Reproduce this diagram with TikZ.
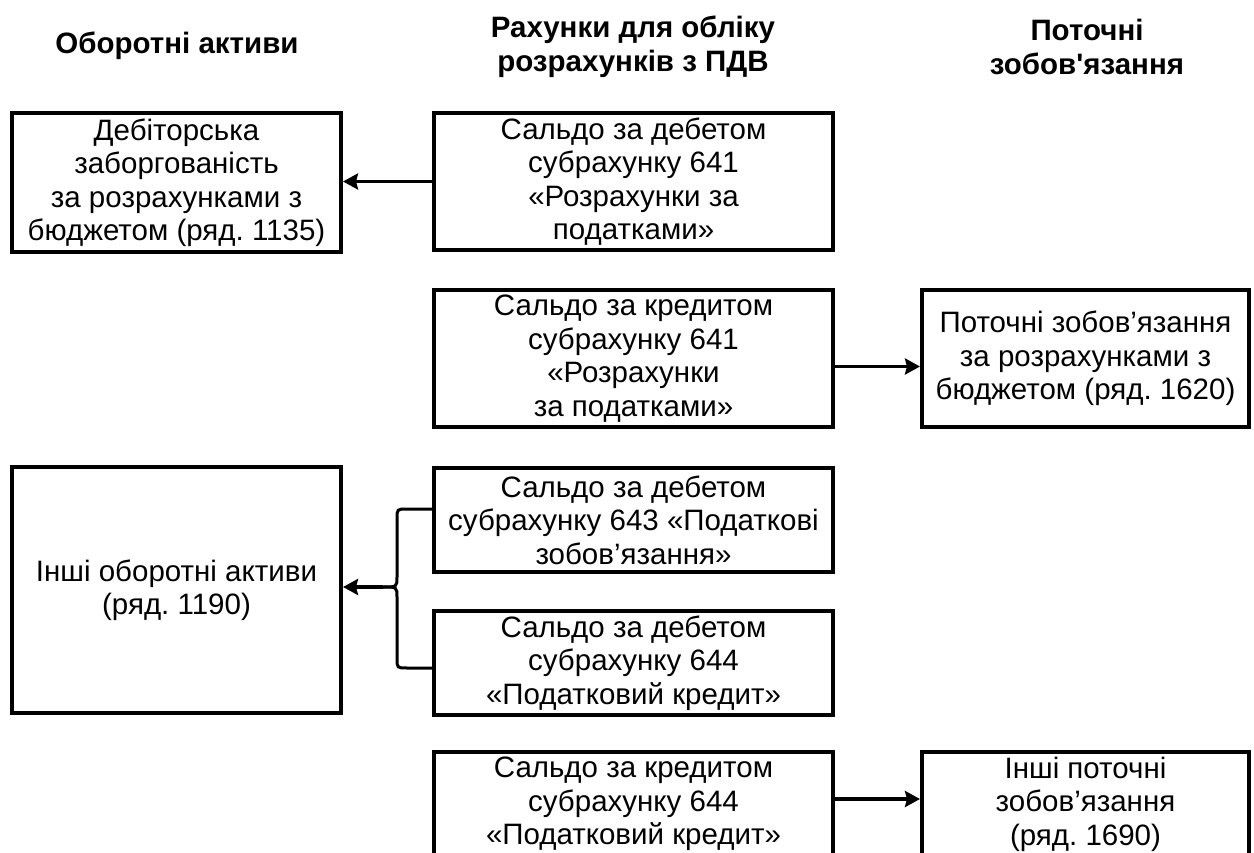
\documentclass[tikz,border=0pt]{standalone}
\usepackage{fontspec}
\setmainfont{Liberation Sans}
\newfontfamily\headfont{Liberation Sans}[Ligatures=TeXOff]
\usetikzlibrary{arrows.meta,calc}
\begin{document}
\frenchspacing
\begin{tikzpicture}[x=1pt,y=-1pt,
  txt/.style={font=\fontsize{29.5}{33.5}\selectfont\frenchspacing},
  head/.style={font=\headfont\fontsize{29.5}{34}\selectfont\bfseries, align=center, inner sep=0pt},
  box/.style={draw, line width=4pt, align=center, inner sep=0pt, txt},
  arr/.style={line width=3.5pt, -{Stealth[length=15pt,width=16pt,inset=2pt]}},
  brc/.style={line width=3pt, line cap=round}]
\useasboundingbox (0,0) rectangle (1254,853);
\clip (0,0) rectangle (1254,853);
% headings
\node[head] (h1) at (177,46) {Оборотні активи};
\node[head] (h2) at (633,47) {Рахунки для обліку\\розрахунків з ПДВ};
\node[head] (h3) at (1087,47) {Поточні\\зобов'язання};
% boxes
\node[box, minimum width=329pt, minimum height=139pt] (L1) at (176.5,182.5)
  {Дебіторська\\заборгованість\\за розрахунками з\\бюджетом (ряд. 1135)};
\node[box, minimum width=399pt, minimum height=137pt] (M1) at (633.5,181.5)
  {Сальдо за дебетом\\субрахунку 641\\«Розрахунки за\\податками»};
\node[box, minimum width=399pt, minimum height=137pt] (M2) at (633.5,358.5)
  {Сальдо за кредитом\\субрахунку 641\\«Розрахунки\\за податками»};
\node[box, minimum width=327pt, minimum height=137pt] (R2) at (1085.5,358.5)
  {Поточні зобов’язання\\за розрахунками з\\бюджетом (ряд. 1620)};
\node[box, minimum width=329pt, minimum height=246pt] (L3) at (176.5,590)
  {Інші оборотні активи\\(ряд. 1190)};
\node[box, minimum width=399pt, minimum height=104pt] (M3) at (633.5,520)
  {Сальдо за дебетом\\субрахунку 643 «Податкові\\зобов’язання»};
\node[box, minimum width=399pt, minimum height=104pt] (M4) at (633.5,663)
  {Сальдо за дебетом\\субрахунку 644\\«Податковий кредит»};
\node[box, minimum width=399pt, minimum height=104pt] (M5) at (633.5,804)
  {Сальдо за кредитом\\субрахунку 644\\«Податковий кредит»};
\node[box, minimum width=327pt, minimum height=104pt] (R5) at (1085.5,804)
  {Інші поточні\\зобов’язання\\(ряд. 1690)};
% arrows
\coordinate (a2) at ([yshift=-8pt]M2.east);
\coordinate (a3) at ([yshift=5pt]M5.east);
\draw[arr] (M1.west) -- (L1.east |- M1.west);
\draw[arr] (a2) -- (R2.west |- a2);
\draw[arr] (a3) -- (R5.west |- a3);
% brace
\coordinate (bt) at ([yshift=11pt]M3.west);
\coordinate (bb) at ([yshift=-5pt]M4.west);
\coordinate (bm) at (383,587);
\draw[brc] (bt) -- (407,509) .. controls (397,509) .. (397,519) -- (397,577) .. controls (397,587) .. (bm);
\draw[brc] (bb) -- (407,668) .. controls (397,668) .. (397,658) -- (397,597) .. controls (397,587) .. (bm);
\draw[arr] (bm) -- (L3.east |- bm);
\end{tikzpicture}
\end{document}
